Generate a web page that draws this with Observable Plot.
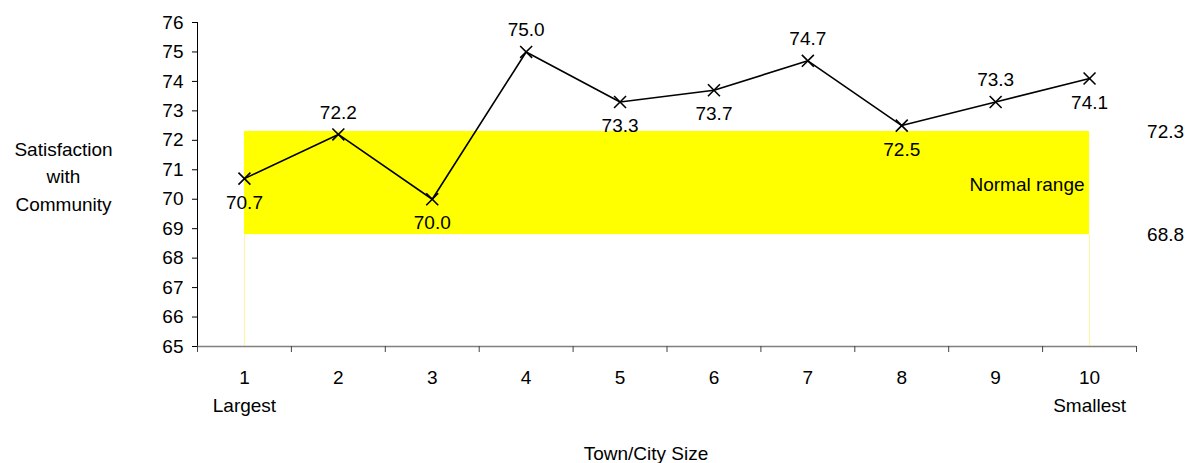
<!DOCTYPE html>
<html>
<head>
<meta charset="utf-8">
<script src="https://cdn.jsdelivr.net/npm/d3@7"></script>
<script src="https://cdn.jsdelivr.net/npm/@observablehq/plot@0.6"></script>
<style>
  html, body { margin: 0; padding: 0; background: #fff; }
  #chart svg { display: block; }
</style>
</head>
<body>
<div id="chart"></div>
<script>
// Satisfaction with community by town/city size (1 = largest, 10 = smallest)
const sizes = [1, 2, 3, 4, 5, 6, 7, 8, 9, 10];
const satisfaction = [70.7, 72.2, 70.0, 75.0, 73.3, 73.7, 74.7, 72.5, 73.3, 74.1];
// Categories whose value label sits above the marker (others go below)
const labelAbove = [2, 4, 7, 9];
// Normal range band
const normalLow = 68.8;
const normalHigh = 72.3;
const yTicks = [65, 66, 67, 68, 69, 70, 71, 72, 73, 74, 75, 76];
const endLabels = [{x: 1, text: "Largest"}, {x: 10, text: "Smallest"}];

const data = sizes.map((s, i) => ({size: s, value: satisfaction[i]}));
const boundaries = d3.range(0.5, sizes.length + 1, 1);
const font = "Liberation Sans, Arial, sans-serif";
const fs = 19;

const chart = Plot.plot({
  width: 1194,
  height: 463,
  marginLeft: 197,
  marginRight: 58,
  marginTop: 22,
  marginBottom: 117,
  style: {fontFamily: font, fontSize: `${fs}px`, color: "#000", background: "#fff"},
  x: {type: "linear", domain: [0.5, sizes.length + 0.5]},
  y: {domain: [65, 76]},
  marks: [
    // normal range band and its faint edge lines
    Plot.rect([{lo: normalLow, hi: normalHigh}], {x1: 1, x2: 10, y1: "lo", y2: "hi", fill: "#ffff00"}),
    Plot.ruleX([1, 10], {y1: 65, y2: normalLow, stroke: "#fff7a0", strokeWidth: 1}),
    Plot.text([{v: (normalLow + normalHigh) / 2}], {x: 10, y: "v", text: () => "Normal range", textAnchor: "end", dx: -5, dy: 2, fontSize: fs}),
    Plot.text([normalHigh, normalLow], {x: 10, y: d => d, text: d => d.toFixed(1), dx: 76, fontSize: fs}),
    // y axis
    Plot.axisY({ticks: yTicks, tickSize: 5, tickPadding: 9, label: null, fontSize: fs}),
    Plot.ruleX([0.5], {y1: 65, y2: 76, stroke: "#000"}),
    // x axis: grey baseline, ticks between categories
    Plot.ruleY([65], {stroke: "#808080", strokeWidth: 1.5}),
    Plot.axisX({ticks: boundaries, tickFormat: () => "", tickSize: 6, stroke: "#444", label: null}),
    Plot.text(sizes, {x: d => d, frameAnchor: "bottom", lineAnchor: "middle", dy: 31, text: d => String(d), fontSize: fs}),
    Plot.text(endLabels, {x: "x", text: "text", frameAnchor: "bottom", lineAnchor: "middle", dy: 59, fontSize: fs}),
    Plot.text(["Town/City Size"], {frameAnchor: "bottom", lineAnchor: "middle", dy: 107, dx: -21, fontSize: fs}),
    Plot.text(["Satisfaction\nwith\nCommunity"], {frameAnchor: "left", textAnchor: "middle", lineAnchor: "middle", dx: -134, dy: -10, lineHeight: 1.45, fontSize: fs}),
    // series line with X markers
    Plot.line(data, {x: "size", y: "value", stroke: "#000", strokeWidth: 1.6}),
    Plot.dot(data, {x: "size", y: "value", symbol: "times", r: 5.5, stroke: "#000", strokeWidth: 1.6}),
    Plot.text(data.filter(d => labelAbove.includes(d.size)), {x: "size", y: "value", text: d => d.value.toFixed(1), dy: -22, fontSize: fs}),
    Plot.text(data.filter(d => !labelAbove.includes(d.size)), {x: "size", y: "value", text: d => d.value.toFixed(1), dy: 24, fontSize: fs})
  ]
});
document.getElementById("chart").append(chart);
</script>
</body>
</html>
